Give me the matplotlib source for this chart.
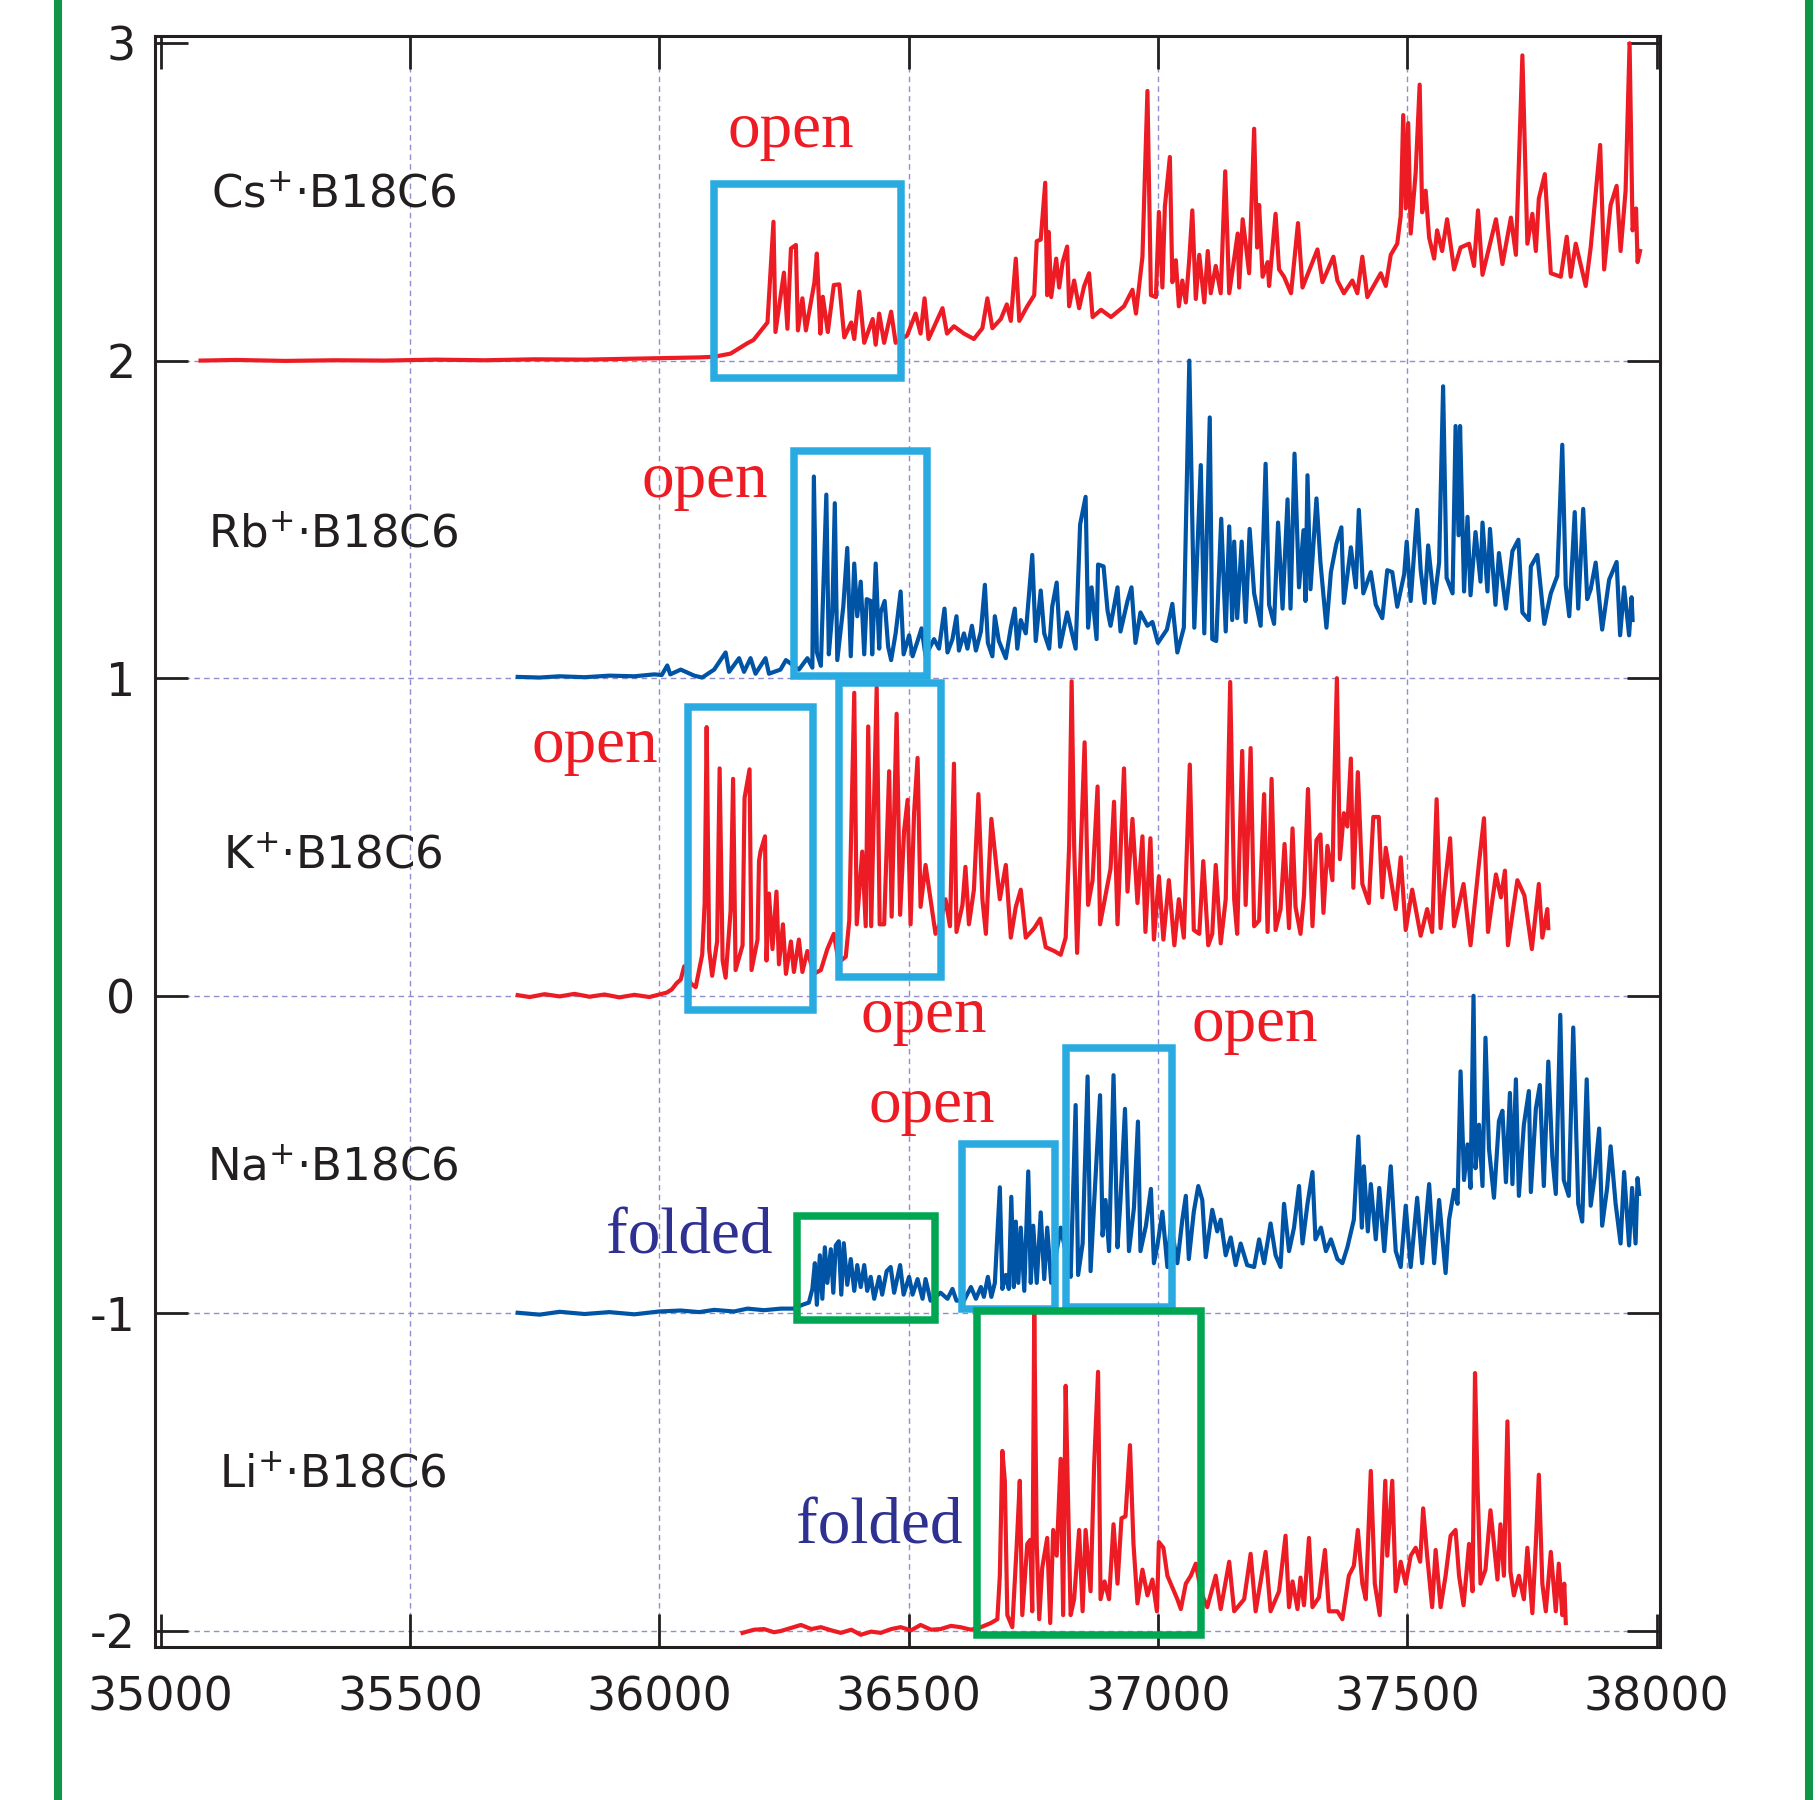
import matplotlib
matplotlib.use('Agg')
import matplotlib.pyplot as plt
import numpy as np
from matplotlib.patches import Rectangle
from matplotlib.lines import Line2D

plt.rcParams['font.family'] = 'DejaVu Sans'
plt.rcParams['axes.unicode_minus'] = False

# ---- data: (wavenumber / cm-1, offset intensity) ----
cs_pts = [
    (35080, 2.000), (35150, 2.002), (35250, 1.999), (35350, 2.001), (35450, 2.000),
    (35550, 2.003), (35650, 2.001), (35750, 2.004), (35850, 2.003), (35950, 2.006),
    (36020, 2.008), (36080, 2.010), (36110, 2.012), (36143, 2.022), (36177, 2.055),
    (36189, 2.065), (36217, 2.120), (36229, 2.437), (36233, 2.090), (36250, 2.277),
    (36257, 2.100), (36264, 2.353), (36274, 2.364), (36278, 2.095), (36287, 2.196),
    (36294, 2.095), (36311, 2.245), (36316, 2.337), (36323, 2.085), (36328, 2.201),
    (36338, 2.090), (36350, 2.238), (36361, 2.240), (36371, 2.073), (36385, 2.120),
    (36391, 2.068), (36401, 2.217), (36411, 2.056), (36428, 2.131), (36434, 2.050),
    (36441, 2.148), (36451, 2.056), (36465, 2.154), (36474, 2.056), (36497, 2.079),
    (36514, 2.148), (36524, 2.085), (36532, 2.196), (36540, 2.068), (36568, 2.165),
    (36577, 2.085), (36591, 2.108), (36611, 2.085), (36631, 2.068), (36648, 2.102),
    (36658, 2.196), (36668, 2.102), (36685, 2.131), (36697, 2.177), (36705, 2.125),
    (36715, 2.321), (36722, 2.125), (36738, 2.171), (36752, 2.206), (36757, 2.376),
    (36765, 2.381), (36774, 2.560), (36778, 2.206), (36781, 2.405), (36786, 2.200),
    (36796, 2.321), (36802, 2.230), (36809, 2.310), (36818, 2.359), (36822, 2.171),
    (36832, 2.252), (36842, 2.165), (36852, 2.234), (36862, 2.275), (36869, 2.137),
    (36886, 2.160), (36906, 2.137), (36932, 2.171), (36949, 2.223), (36956, 2.148),
    (36969, 2.327), (36979, 2.849), (36986, 2.206), (36996, 2.200), (37002, 2.468),
    (37009, 2.230), (37014, 2.485), (37024, 2.641), (37029, 2.247), (37036, 2.316),
    (37042, 2.171), (37049, 2.252), (37056, 2.183), (37063, 2.321), (37069, 2.473),
    (37076, 2.194), (37083, 2.333), (37093, 2.183), (37100, 2.345), (37106, 2.212),
    (37116, 2.298), (37126, 2.212), (37135, 2.596), (37143, 2.212), (37153, 2.321),
    (37160, 2.400), (37163, 2.230), (37170, 2.445), (37176, 2.368), (37183, 2.275),
    (37193, 2.730), (37199, 2.356), (37203, 2.490), (37210, 2.264), (37220, 2.310),
    (37223, 2.235), (37236, 2.462), (37243, 2.287), (37253, 2.264), (37267, 2.212),
    (37281, 2.433), (37290, 2.230), (37307, 2.298), (37320, 2.350), (37330, 2.247),
    (37352, 2.327), (37360, 2.252), (37373, 2.212), (37390, 2.252), (37400, 2.212),
    (37410, 2.327), (37420, 2.200), (37447, 2.275), (37457, 2.235), (37467, 2.333),
    (37480, 2.368), (37487, 2.456), (37492, 2.773), (37497, 2.479), (37502, 2.748),
    (37507, 2.400), (37517, 2.593), (37525, 2.869), (37530, 2.467), (37537, 2.535),
    (37544, 2.387), (37554, 2.321), (37560, 2.410), (37570, 2.345), (37580, 2.445),
    (37594, 2.287), (37607, 2.356), (37624, 2.368), (37634, 2.298), (37642, 2.473),
    (37651, 2.270), (37678, 2.445), (37691, 2.304), (37708, 2.450), (37718, 2.333),
    (37731, 2.961), (37741, 2.368), (37751, 2.462), (37758, 2.345), (37764, 2.510),
    (37776, 2.587), (37788, 2.275), (37808, 2.264), (37820, 2.390), (37828, 2.264),
    (37838, 2.368), (37858, 2.235), (37868, 2.356), (37887, 2.679), (37895, 2.287),
    (37908, 2.490), (37920, 2.550), (37928, 2.345), (37938, 2.535), (37946, 2.999),
    (37952, 2.410), (37959, 2.479), (37962, 2.310), (37967, 2.345),
]

rb_pts = [
    (35716, 1.004), (35760, 1.002), (35800, 1.006), (35850, 1.003), (35900, 1.008),
    (35950, 1.006), (35990, 1.012), (36005, 1.010), (36016, 1.040), (36022, 1.012),
    (36043, 1.027), (36070, 1.008), (36086, 1.002), (36110, 1.027), (36133, 1.081),
    (36140, 1.020), (36160, 1.063), (36170, 1.020), (36183, 1.063), (36193, 1.014),
    (36213, 1.063), (36220, 1.014), (36243, 1.027), (36254, 1.057), (36280, 1.027),
    (36297, 1.063), (36307, 1.033), (36310, 1.635), (36316, 1.081), (36324, 1.039),
    (36335, 1.578), (36340, 1.075), (36347, 1.207), (36352, 1.551), (36357, 1.057),
    (36369, 1.225), (36377, 1.410), (36384, 1.069), (36391, 1.361), (36397, 1.195),
    (36404, 1.304), (36411, 1.075), (36416, 1.249), (36424, 1.243), (36427, 1.075),
    (36434, 1.361), (36441, 1.093), (36444, 1.207), (36452, 1.243), (36459, 1.099),
    (36465, 1.057), (36474, 1.141), (36484, 1.273), (36490, 1.075), (36501, 1.135),
    (36508, 1.069), (36518, 1.117), (36526, 1.157), (36534, 1.070), (36551, 1.123),
    (36561, 1.093), (36572, 1.219), (36578, 1.081), (36588, 1.123), (36596, 1.195),
    (36601, 1.087), (36611, 1.141), (36618, 1.093), (36627, 1.165), (36635, 1.087),
    (36645, 1.147), (36653, 1.294), (36659, 1.111), (36668, 1.069), (36673, 1.195),
    (36681, 1.117), (36695, 1.063), (36705, 1.159), (36713, 1.219), (36718, 1.093),
    (36725, 1.183), (36735, 1.141), (36748, 1.388), (36755, 1.117), (36765, 1.276),
    (36772, 1.141), (36782, 1.093), (36788, 1.225), (36797, 1.301), (36804, 1.099),
    (36818, 1.207), (36835, 1.093), (36844, 1.484), (36855, 1.571), (36860, 1.159),
    (36867, 1.286), (36877, 1.123), (36880, 1.358), (36891, 1.352), (36899, 1.213),
    (36905, 1.165), (36919, 1.286), (36925, 1.147), (36939, 1.243), (36947, 1.286),
    (36955, 1.111), (36965, 1.207), (36979, 1.165), (36989, 1.177), (37000, 1.111),
    (37018, 1.153), (37029, 1.234), (37039, 1.081), (37052, 1.159), (37063, 2.000),
    (37073, 1.159), (37086, 1.671), (37093, 1.141), (37104, 1.821), (37109, 1.123),
    (37117, 1.117), (37127, 1.502), (37136, 1.147), (37143, 1.478), (37149, 1.183),
    (37153, 1.430), (37159, 1.189), (37168, 1.430), (37176, 1.177), (37184, 1.470),
    (37193, 1.267), (37206, 1.165), (37216, 1.675), (37223, 1.231), (37233, 1.171),
    (37241, 1.490), (37250, 1.219), (37260, 1.563), (37266, 1.219), (37274, 1.707),
    (37283, 1.286), (37292, 1.466), (37296, 1.243), (37300, 1.639), (37306, 1.280),
    (37318, 1.566), (37326, 1.364), (37338, 1.159), (37347, 1.334), (37358, 1.424),
    (37368, 1.475), (37373, 1.237), (37387, 1.412), (37397, 1.286), (37403, 1.530),
    (37412, 1.267), (37427, 1.334), (37437, 1.231), (37450, 1.189), (37460, 1.340),
    (37470, 1.334), (37480, 1.225), (37494, 1.328), (37499, 1.430), (37507, 1.243),
    (37520, 1.530), (37527, 1.340), (37535, 1.237), (37542, 1.418), (37554, 1.237),
    (37564, 1.364), (37572, 1.919), (37579, 1.316), (37591, 1.267), (37597, 1.794),
    (37603, 1.450), (37606, 1.794), (37614, 1.273), (37621, 1.508), (37627, 1.261),
    (37637, 1.460), (37647, 1.304), (37651, 1.490), (37661, 1.273), (37666, 1.470),
    (37677, 1.231), (37684, 1.394), (37698, 1.219), (37711, 1.400), (37723, 1.436),
    (37731, 1.207), (37744, 1.183), (37748, 1.352), (37761, 1.388), (37775, 1.171),
    (37788, 1.267), (37801, 1.322), (37811, 1.735), (37818, 1.292), (37825, 1.195),
    (37836, 1.523), (37843, 1.219), (37853, 1.533), (37861, 1.249), (37868, 1.280),
    (37878, 1.364), (37891, 1.153), (37905, 1.310), (37920, 1.366), (37927, 1.135),
    (37935, 1.286), (37945, 1.135), (37950, 1.255), (37952, 1.183),
]

k_pts = [
    (35716, 0.002), (35740, -0.004), (35770, 0.005), (35800, -0.002), (35830, 0.006),
    (35860, -0.003), (35890, 0.004), (35920, -0.005), (35950, 0.003), (35980, -0.004),
    (36000, 0.004), (36015, 0.010), (36025, 0.020), (36035, 0.040), (36043, 0.051),
    (36050, 0.093), (36063, 0.039), (36073, 0.027), (36086, 0.129), (36091, 0.292),
    (36095, 0.846), (36100, 0.147), (36106, 0.063), (36116, 0.171), (36121, 0.716),
    (36127, 0.111), (36133, 0.057), (36143, 0.267), (36148, 0.683), (36153, 0.081),
    (36167, 0.159), (36171, 0.623), (36181, 0.713), (36185, 0.081), (36197, 0.177),
    (36200, 0.424), (36203, 0.454), (36212, 0.502), (36215, 0.111), (36220, 0.322),
    (36227, 0.147), (36235, 0.328), (36240, 0.099), (36248, 0.225), (36254, 0.069),
    (36264, 0.171), (36270, 0.075), (36280, 0.177), (36287, 0.075), (36297, 0.141),
    (36310, 0.069), (36324, 0.081), (36337, 0.147), (36350, 0.195), (36360, 0.105),
    (36374, 0.123), (36381, 0.237), (36391, 0.954), (36396, 0.225), (36407, 0.454),
    (36414, 0.219), (36419, 0.848), (36425, 0.219), (36436, 0.972), (36442, 0.225),
    (36451, 0.225), (36461, 0.707), (36466, 0.249), (36476, 0.888), (36483, 0.255),
    (36491, 0.520), (36498, 0.617), (36504, 0.225), (36511, 0.575), (36518, 0.749),
    (36524, 0.280), (36534, 0.412), (36544, 0.304), (36554, 0.195), (36564, 0.231),
    (36574, 0.304), (36583, 0.219), (36591, 0.731), (36596, 0.201), (36608, 0.286),
    (36614, 0.406), (36621, 0.225), (36631, 0.334), (36640, 0.635), (36648, 0.304),
    (36655, 0.195), (36666, 0.557), (36675, 0.424), (36683, 0.304), (36695, 0.412),
    (36705, 0.183), (36715, 0.280), (36725, 0.334), (36735, 0.183), (36752, 0.213),
    (36764, 0.243), (36775, 0.153), (36792, 0.141), (36805, 0.129), (36815, 0.183),
    (36822, 0.472), (36827, 0.990), (36832, 0.472), (36838, 0.135), (36853, 0.798),
    (36860, 0.286), (36869, 0.364), (36879, 0.659), (36884, 0.225), (36895, 0.316),
    (36905, 0.400), (36912, 0.611), (36919, 0.225), (36932, 0.716), (36939, 0.328),
    (36949, 0.557), (36959, 0.292), (36969, 0.502), (36975, 0.201), (36985, 0.496),
    (36992, 0.177), (37002, 0.376), (37011, 0.177), (37022, 0.364), (37033, 0.159),
    (37042, 0.304), (37052, 0.183), (37064, 0.728), (37072, 0.207), (37083, 0.195),
    (37091, 0.424), (37101, 0.159), (37109, 0.195), (37116, 0.412), (37126, 0.165),
    (37136, 0.304), (37145, 0.988), (37153, 0.304), (37159, 0.195), (37169, 0.771),
    (37176, 0.286), (37186, 0.780), (37193, 0.219), (37203, 0.237), (37213, 0.635),
    (37220, 0.201), (37228, 0.683), (37236, 0.207), (37246, 0.273), (37254, 0.478),
    (37263, 0.213), (37270, 0.527), (37276, 0.280), (37286, 0.195), (37293, 0.316),
    (37301, 0.651), (37310, 0.219), (37318, 0.490), (37326, 0.508), (37332, 0.261),
    (37340, 0.472), (37350, 0.364), (37353, 0.623), (37359, 1.000), (37365, 0.430),
    (37373, 0.575), (37380, 0.533), (37387, 0.747), (37392, 0.340), (37401, 0.704),
    (37410, 0.352), (37423, 0.292), (37432, 0.563), (37443, 0.563), (37450, 0.310),
    (37457, 0.466), (37467, 0.370), (37477, 0.273), (37487, 0.436), (37497, 0.207),
    (37510, 0.334), (37527, 0.189), (37540, 0.273), (37550, 0.201), (37559, 0.619),
    (37567, 0.213), (37574, 0.328), (37586, 0.496), (37594, 0.219), (37613, 0.352),
    (37627, 0.159), (37644, 0.418), (37654, 0.559), (37662, 0.201), (37678, 0.382),
    (37688, 0.310), (37696, 0.394), (37702, 0.159), (37721, 0.364), (37735, 0.316),
    (37750, 0.147), (37764, 0.352), (37771, 0.183), (37781, 0.273), (37783, 0.213),
]

na_pts = [
    (35716, -0.998), (35760, -1.004), (35800, -0.995), (35850, -1.002), (35900, -0.996),
    (35950, -1.003), (36000, -0.994), (36043, -0.991), (36080, -0.996), (36110, -0.989),
    (36150, -0.994), (36177, -0.985), (36210, -0.990), (36244, -0.985), (36270, -0.985),
    (36287, -0.973), (36300, -0.966), (36307, -0.923), (36312, -0.842), (36316, -0.973),
    (36322, -0.817), (36327, -0.954), (36332, -0.792), (36337, -0.904), (36344, -0.798),
    (36349, -0.935), (36354, -0.786), (36360, -0.773), (36365, -0.941), (36370, -0.779),
    (36377, -0.910), (36384, -0.829), (36391, -0.929), (36397, -0.848), (36404, -0.917),
    (36411, -0.848), (36417, -0.929), (36424, -0.885), (36431, -0.954), (36441, -0.885),
    (36447, -0.941), (36456, -0.867), (36464, -0.854), (36471, -0.935), (36483, -0.848),
    (36490, -0.941), (36501, -0.885), (36508, -0.941), (36518, -0.892), (36528, -0.954),
    (36534, -0.892), (36544, -0.960), (36564, -0.935), (36578, -0.954), (36588, -0.923),
    (36596, -0.960), (36611, -0.960), (36625, -0.917), (36635, -0.954), (36645, -0.917),
    (36651, -0.948), (36659, -0.885), (36666, -0.948), (36673, -0.904), (36683, -0.603),
    (36688, -0.923), (36695, -0.879), (36701, -0.923), (36706, -0.633), (36711, -0.917),
    (36715, -0.711), (36720, -0.904), (36725, -0.730), (36732, -0.929), (36740, -0.553),
    (36745, -0.904), (36750, -0.724), (36757, -0.904), (36765, -0.682), (36772, -0.892),
    (36778, -0.730), (36786, -0.904), (36805, -0.730), (36818, -0.829), (36825, -0.885),
    (36835, -0.344), (36840, -0.879), (36849, -0.780), (36859, -0.254), (36865, -0.867),
    (36872, -0.655), (36884, -0.313), (36889, -0.755), (36895, -0.643), (36902, -0.804),
    (36911, -0.250), (36919, -0.792), (36925, -0.643), (36934, -0.356), (36942, -0.804),
    (36952, -0.667), (36960, -0.396), (36965, -0.804), (36976, -0.724), (36986, -0.608),
    (36992, -0.842), (36999, -0.786), (37009, -0.680), (37019, -0.854), (37026, -0.717),
    (37039, -0.842), (37049, -0.705), (37056, -0.630), (37062, -0.829), (37072, -0.680),
    (37081, -0.599), (37089, -0.643), (37096, -0.823), (37109, -0.674), (37119, -0.742),
    (37126, -0.705), (37136, -0.817), (37146, -0.761), (37156, -0.848), (37166, -0.780),
    (37179, -0.848), (37193, -0.854), (37203, -0.767), (37213, -0.842), (37226, -0.717),
    (37236, -0.817), (37246, -0.854), (37253, -0.655), (37263, -0.804), (37273, -0.730),
    (37283, -0.599), (37290, -0.780), (37300, -0.655), (37310, -0.555), (37316, -0.767),
    (37327, -0.730), (37337, -0.804), (37347, -0.767), (37360, -0.829), (37370, -0.842),
    (37380, -0.792), (37393, -0.705), (37402, -0.443), (37409, -0.730), (37413, -0.537),
    (37421, -0.742), (37427, -0.593), (37437, -0.767), (37444, -0.605), (37454, -0.804),
    (37467, -0.537), (37477, -0.804), (37487, -0.854), (37497, -0.661), (37507, -0.854),
    (37520, -0.636), (37530, -0.842), (37544, -0.593), (37554, -0.842), (37564, -0.643),
    (37577, -0.873), (37584, -0.705), (37594, -0.611), (37601, -0.655), (37607, -0.238),
    (37614, -0.580), (37621, -0.468), (37627, -0.605), (37633, 0.000), (37637, -0.543),
    (37644, -0.406), (37651, -0.599), (37657, -0.132), (37664, -0.481), (37674, -0.636),
    (37684, -0.394), (37691, -0.362), (37698, -0.587), (37706, -0.306), (37711, -0.593),
    (37718, -0.263), (37724, -0.630), (37734, -0.406), (37744, -0.300), (37748, -0.618),
    (37758, -0.356), (37766, -0.281), (37774, -0.599), (37783, -0.207), (37791, -0.506),
    (37798, -0.624), (37807, -0.060), (37814, -0.580), (37824, -0.630), (37833, -0.100),
    (37843, -0.655), (37851, -0.711), (37860, -0.263), (37868, -0.661), (37876, -0.568),
    (37885, -0.418), (37891, -0.724), (37901, -0.605), (37908, -0.474), (37918, -0.655),
    (37928, -0.780), (37935, -0.555), (37945, -0.786), (37951, -0.605), (37958, -0.780),
    (37962, -0.574), (37965, -0.624),
]

li_pts = [
    (36167, -2.006), (36190, -1.996), (36210, -1.994), (36230, -2.004), (36244, -2.000),
    (36265, -1.990), (36284, -1.981), (36305, -1.994), (36324, -1.988), (36345, -1.998),
    (36364, -2.006), (36385, -1.996), (36404, -2.012), (36425, -2.002), (36444, -2.006),
    (36465, -1.994), (36484, -1.988), (36505, -1.998), (36524, -1.981), (36545, -1.996),
    (36564, -1.994), (36585, -1.984), (36604, -1.988), (36625, -1.996), (36645, -1.988),
    (36665, -1.975), (36678, -1.963), (36683, -1.826), (36688, -1.433), (36693, -1.527),
    (36698, -1.950), (36708, -1.988), (36717, -1.726), (36723, -1.527), (36728, -1.950),
    (36738, -1.726), (36744, -1.713), (36748, -1.938), (36752, -1.000), (36757, -1.726),
    (36762, -1.963), (36768, -1.801), (36778, -1.707), (36784, -1.975), (36790, -1.682),
    (36797, -1.763), (36805, -1.458), (36810, -1.950), (36815, -1.228), (36820, -1.601),
    (36825, -1.950), (36832, -1.900), (36842, -1.682), (36849, -1.938), (36855, -1.682),
    (36865, -1.875), (36872, -1.483), (36880, -1.184), (36885, -1.900), (36893, -1.844),
    (36902, -1.900), (36911, -1.664), (36919, -1.851), (36927, -1.645), (36935, -1.639),
    (36944, -1.415), (36951, -1.726), (36959, -1.913), (36969, -1.807), (36979, -1.888),
    (36989, -1.838), (36998, -1.938), (37002, -1.720), (37011, -1.738), (37019, -1.826),
    (37029, -1.863), (37039, -1.900), (37046, -1.931), (37056, -1.851), (37066, -1.826),
    (37076, -1.788), (37087, -1.880), (37099, -1.925), (37116, -1.826), (37126, -1.931),
    (37143, -1.782), (37153, -1.938), (37173, -1.900), (37186, -1.757), (37196, -1.938),
    (37216, -1.751), (37226, -1.938), (37243, -1.875), (37256, -1.700), (37263, -1.925),
    (37270, -1.844), (37280, -1.931), (37286, -1.832), (37293, -1.919), (37303, -1.707),
    (37310, -1.925), (37323, -1.894), (37335, -1.745), (37343, -1.938), (37360, -1.938),
    (37370, -1.963), (37383, -1.826), (37393, -1.795), (37401, -1.682), (37410, -1.851),
    (37417, -1.900), (37427, -1.496), (37435, -1.851), (37445, -1.950), (37456, -1.527),
    (37460, -1.763), (37470, -1.527), (37477, -1.875), (37487, -1.782), (37497, -1.851),
    (37507, -1.763), (37517, -1.738), (37526, -1.782), (37532, -1.614), (37540, -1.763),
    (37550, -1.925), (37557, -1.745), (37567, -1.925), (37577, -1.826), (37587, -1.700),
    (37597, -1.682), (37604, -1.826), (37613, -1.919), (37624, -1.726), (37631, -1.875),
    (37636, -1.188), (37641, -1.539), (37647, -1.851), (37657, -1.807), (37667, -1.620),
    (37674, -1.726), (37681, -1.838), (37687, -1.664), (37694, -1.826), (37701, -1.340),
    (37707, -1.813), (37714, -1.888), (37724, -1.826), (37734, -1.900), (37741, -1.738),
    (37751, -1.944), (37758, -1.726), (37764, -1.508), (37771, -1.851), (37778, -1.938),
    (37788, -1.751), (37798, -1.938), (37804, -1.788), (37811, -1.950), (37815, -1.851),
    (37818, -1.975),
]

# species labels: (text, x, baseline y)
species = [
    (r'Cs$^{+}$·B18C6', 35346, 2.48),
    (r'Rb$^{+}$·B18C6', 35346, 1.411),
    (r'K$^{+}$·B18C6', 35346, 0.398),
    (r'Na$^{+}$·B18C6', 35346, -0.585),
    (r'Li$^{+}$·B18C6', 35346, -1.55),
]

# boxes: (x0, x1, y0, y1, kind)
boxes = [
    (36110, 36484, 1.946, 2.557, 'open'),
    (36270, 36537, 1.007, 1.714, 'open'),
    (36057, 36308, -0.045, 0.908, 'open'),
    (36361, 36564, 0.058, 0.984, 'open'),
    (36276, 36553, -1.022, -0.692, 'folded'),
    (36607, 36794, -0.986, -0.466, 'open'),
    (36816, 37028, -0.980, -0.163, 'open'),
    (36637, 37086, -2.012, -0.994, 'folded'),
]

# conformer labels: (text, x center, baseline y)
conf_labels = [
    ('open', 36264, 2.674),
    ('open', 36091, 1.570),
    ('open', 35870, 0.735),
    ('open', 36531, -0.115),
    ('open', 37194, -0.142),
    ('open', 36546, -0.396),
    ('folded', 36060, -0.813),
    ('folded', 36441, -1.726),
]

x_ticks = [35000, 35500, 36000, 36500, 37000, 37500, 38000]
y_ticks = [-2, -1, 0, 1, 2, 3]

RED = '#ed1c24'
BLUE = '#0054a6'
NAVY = '#2e3192'
CYAN = '#29abe2'
GREEN = '#00a651'
INK = '#231f20'
GRID = '#8f8fd0'

fig = plt.figure(figsize=(18.18, 18.0), dpi=100)
ax = fig.add_axes([155 / 1818, 1 - 1646.7 / 1800, (1660.4 - 155) / 1818, (1646.7 - 36) / 1800])

# dashed grid only on the inner tick positions
for xv in x_ticks[1:-1]:
    ax.axvline(xv, color=GRID, lw=1.0, ls=(0, (4, 3)), zorder=1)
for yv in y_ticks[:-1]:
    ax.axhline(yv, color=GRID, lw=1.0, ls=(0, (4, 3)), zorder=1)

series = [(cs_pts, RED), (rb_pts, BLUE), (k_pts, RED), (na_pts, BLUE), (li_pts, RED)]
for pts, col in series:
    x, y = np.array(pts).T
    ax.plot(x, y, color=col, lw=3.0, zorder=3)

for x0, x1, y0, y1, kind in boxes:
    ec = CYAN if kind == 'open' else GREEN
    ax.add_patch(Rectangle((x0, y0), x1 - x0, y1 - y0, fill=False, ec=ec,
                           lw=5.4, zorder=5, joinstyle='miter'))

for txt, x, y in conf_labels:
    col = RED if txt == 'open' else NAVY
    ax.text(x, y, txt, color=col, fontsize=47, family='Liberation Serif',
            ha='center', va='baseline', zorder=6)

for txt, x, y in species:
    ax.text(x, y, txt, color=INK, fontsize=32.5, ha='center', va='baseline', zorder=6)

ax.set_xlim(34988.6, 38007.8)
ax.set_ylim(-2.0495, 3.022)
ax.set_xticks(x_ticks)
ax.set_yticks(y_ticks)
ax.tick_params(direction='in', length=24, width=2.0, colors=INK, labelsize=33,
               top=True, right=True)
ax.tick_params(axis='x', pad=21)
ax.tick_params(axis='y', pad=14)
for sp in ax.spines.values():
    sp.set_linewidth(2.2)
    sp.set_color(INK)

# green frame lines at the left and right of the panel
for xf in (58 / 1818, 1809 / 1818):
    fig.add_artist(Line2D([xf, xf], [0, 1], transform=fig.transFigure,
                          color='#109546', lw=5.8))

fig.savefig('out.png', dpi=100)
